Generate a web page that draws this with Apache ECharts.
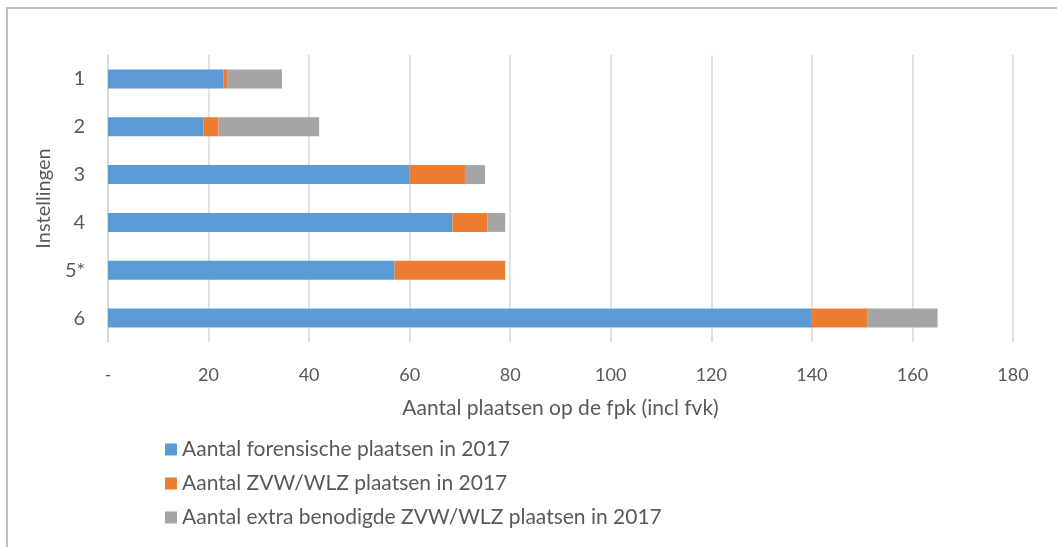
<!DOCTYPE html>
<html>
<head>
<meta charset="utf-8">
<script src="https://cdn.jsdelivr.net/npm/echarts@6/dist/echarts.min.js"></script>
<style>
  html, body { margin: 0; padding: 0; background: #fff; }
  #chart { width: 1057px; height: 547px; }
</style>
</head>
<body>
<div id="chart"></div>
<script>
  // instellingen (van boven naar onder)
  var categories = ['1', '2', '3', '4', '5*', '6']
  var forensisch = [23, 19, 60, 68.5, 57, 140]
  var zvwWlz = [0.7, 3, 11, 7, 22, 11]
  var extra = [10.9, 20, 4, 3.5, 0, 14]
  var seriesNames = [
    'Aantal forensische plaatsen in 2017',
    'Aantal ZVW/WLZ plaatsen in 2017',
    'Aantal extra benodigde ZVW/WLZ plaatsen in 2017'
  ]
  var colors = ['#5b9bd5', '#ed7d31', '#a5a5a5']

  var chart = echarts.init(document.getElementById('chart'))
  var font = 'Lato, "Noto Sans", sans-serif'

  function bar(name, data) {
    return {
      name: name,
      type: 'bar',
      stack: 'totaal',
      barWidth: 19,
      data: data,
      animation: false
    }
  }

  chart.setOption({
    color: colors,
    textStyle: { fontFamily: font },
    graphic: [{
      type: 'rect',
      shape: { x: 7, y: 8, width: 1070, height: 570 },
      style: { fill: 'none', stroke: '#bfbfbf', lineWidth: 2 },
      silent: true
    }],
    grid: { left: 108, top: 55, width: 905, height: 287 },
    legend: {
      orient: 'vertical',
      left: 160,
      top: 434,
      itemWidth: 12,
      itemHeight: 12,
      itemGap: 13,
      icon: 'rect',
      textStyle: { color: '#595959', fontSize: 21, fontFamily: font },
      data: seriesNames
    },
    xAxis: {
      type: 'value',
      min: 0,
      max: 180,
      interval: 20,
      name: 'Aantal plaatsen op de fpk (incl fvk)',
      nameLocation: 'middle',
      nameGap: 56,
      nameTextStyle: { color: '#595959', fontSize: 21, fontFamily: font },
      axisLine: { show: false },
      axisTick: { show: false },
      axisLabel: {
        color: '#595959',
        fontSize: 18,
        margin: 24,
        formatter: function (v) { return v === 0 ? '-' : v }
      },
      splitLine: { lineStyle: { color: '#d9d9d9', width: 1.5 } }
    },
    yAxis: {
      type: 'category',
      inverse: true,
      data: categories,
      name: 'Instellingen',
      nameLocation: 'middle',
      nameGap: 51,
      nameRotate: 90,
      nameTextStyle: { color: '#595959', fontSize: 20, fontFamily: font },
      axisLine: { lineStyle: { color: '#d9d9d9', width: 1.5 } },
      axisTick: { length: 8, lineStyle: { color: '#d9d9d9', width: 1.5 } },
      axisLabel: { color: '#595959', fontSize: 20, margin: 23 }
    },
    series: [
      bar(seriesNames[0], forensisch),
      bar(seriesNames[1], zvwWlz),
      bar(seriesNames[2], extra)
    ]
  })

  window.addEventListener('resize', function () {
    chart.resize()
  })
</script>
</body>
</html>
